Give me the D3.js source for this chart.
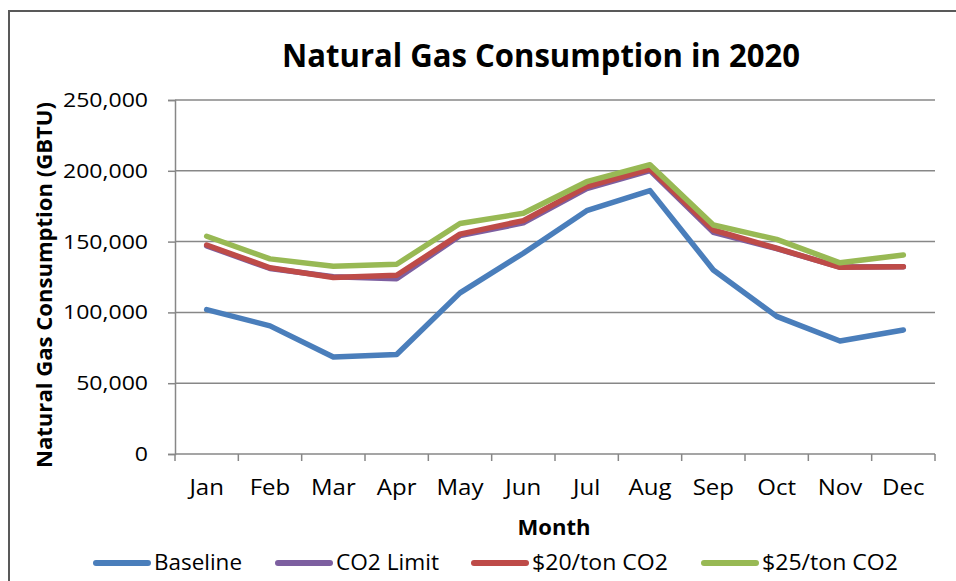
<!DOCTYPE html>
<html>
<head>
<meta charset="utf-8">
<script src="https://cdn.jsdelivr.net/npm/d3@7"></script>
<style>
  html, body { margin: 0; padding: 0; background: #fff; }
  svg { display: block; font-family: "Open Sans", "Noto Sans", sans-serif; }
</style>
</head>
<body>
<svg id="chart" width="956" height="581"></svg>
<script>
// ---------- data ----------
const months = ["Jan","Feb","Mar","Apr","May","Jun","Jul","Aug","Sep","Oct","Nov","Dec"];
const baseline  = [102000, 90500, 68500, 70300, 113800, 141800, 171800, 186000, 130000, 97200, 79800, 87600];
const co2Limit  = [147000, 131000, 125200, 123800, 154200, 163200, 187500, 200200, 156500, 145000, 132000, 132200];
const ton20     = [147600, 131500, 124600, 126200, 155300, 164800, 188800, 201200, 158200, 145300, 131800, 132300];
const ton25     = [153800, 137800, 132600, 134000, 162800, 170000, 192300, 204300, 161700, 151600, 135000, 140600];
const seriesNames = ["Baseline", "CO2 Limit", "$20/ton CO2", "$25/ton CO2"];
const yTicks = [0, 50000, 100000, 150000, 200000, 250000];
const title = "Natural Gas Consumption in 2020";
const xTitle = "Month";
const yTitle = "Natural Gas Consumption (GBTU)";

// ---------- styles ----------
const colors = ["#4A7EBB", "#7D5FA0", "#BE4B48", "#98B954"];
const gridColor = "#878787";

const svg = d3.select("#chart");
const plot = { left: 175, right: 935, top: 100, bottom: 454 };

const x = d3.scalePoint().domain(months).range([plot.left, plot.right]).padding(0.5);
const xBand = d3.scaleBand().domain(months).range([plot.left, plot.right]);
const y = d3.scaleLinear().domain([0, 250000]).range([plot.bottom, plot.top]);

function fit(sel, w) {
  sel.attr("textLength", w).attr("lengthAdjust", "spacingAndGlyphs");
}

// outer border (clipped at right / bottom as in reference)
svg.append("rect").attr("x", 9).attr("y", 11).attr("width", 960).attr("height", 600)
  .attr("fill", "none").attr("stroke", "#595959").attr("stroke-width", 2);

// title
const t = svg.append("text").attr("x", 541).attr("y", 67).attr("text-anchor", "middle")
  .attr("font-size", 32).attr("font-weight", "bold").attr("fill", "#000").text(title);
fit(t, 518);

// gridlines
svg.append("g").selectAll("line").data(yTicks.filter(d => d > 0)).join("line")
  .attr("x1", plot.left).attr("x2", plot.right)
  .attr("y1", d => y(d)).attr("y2", d => y(d))
  .attr("stroke", gridColor).attr("stroke-width", 1.5);

// y axis
const yAxis = svg.append("g").attr("transform", `translate(${plot.left},0)`)
  .call(d3.axisLeft(y).tickValues(yTicks).tickSize(7).tickPadding(20)
    .tickFormat(d3.format(",")));
yAxis.select(".domain").attr("stroke", gridColor).attr("stroke-width", 1.5);
yAxis.selectAll(".tick line").attr("stroke", gridColor).attr("stroke-width", 1.5);
yAxis.selectAll(".tick text").attr("font-size", 20.5).attr("fill", "#000")
  .attr("font-family", "'Open Sans', sans-serif");
// horizontal stretch to mimic reference typeface widths
(function(){
  const texts = yAxis.selectAll(".tick text").nodes();
  let ref = texts.find(n => n.textContent === "250,000");
  const k = 85 / ref.getComputedTextLength();
  texts.forEach(n => { const w = n.getComputedTextLength() * k; d3.select(n).call(fit, w); });
})();

// x axis
const xg = svg.append("g");
xg.append("line").attr("x1", plot.left).attr("x2", plot.right)
  .attr("y1", plot.bottom).attr("y2", plot.bottom)
  .attr("stroke", gridColor).attr("stroke-width", 1.5);
const edges = months.map(m => xBand(m)).concat([xBand(months[months.length-1]) + xBand.bandwidth()]);
xg.selectAll("line.tk").data(edges).join("line").attr("class", "tk")
  .attr("x1", d => d).attr("x2", d => d)
  .attr("y1", plot.bottom).attr("y2", plot.bottom + 7)
  .attr("stroke", gridColor).attr("stroke-width", 1.5);
const xl = xg.selectAll("text").data(months).join("text")
  .attr("x", d => x(d)).attr("y", 495).attr("text-anchor", "middle")
  .attr("font-size", 22).attr("fill", "#000").text(d => d);
(function(){
  const nodes = xl.nodes();
  const ref = nodes.find(n => n.textContent === "May");
  const k = 47 / ref.getComputedTextLength();
  nodes.forEach(n => { d3.select(n).call(fit, n.getComputedTextLength() * k); });
})();

// axis titles
const xt = svg.append("text").attr("x", 554).attr("y", 535).attr("text-anchor", "middle")
  .attr("font-size", 21).attr("font-weight", "bold").attr("fill", "#000").text(xTitle);
fit(xt, 73);
const yt = svg.append("text").attr("transform", "translate(52,285) rotate(-90)")
  .attr("text-anchor", "middle").attr("font-size", 21).attr("font-weight", "bold")
  .attr("fill", "#000").text(yTitle);
fit(yt, 366);

// lines
const allSeries = [baseline, co2Limit, ton20, ton25];
const lineGen = d3.line().x((d, i) => x(months[i])).y(d => y(d));
svg.append("g").selectAll("path").data(allSeries).join("path")
  .attr("d", d => lineGen(d))
  .attr("fill", "none")
  .attr("stroke", (d, i) => colors[i])
  .attr("stroke-width", 5.5)
  .attr("stroke-linejoin", "round")
  .attr("stroke-linecap", "round");

// legend
const legendX = [94, 276, 472, 702];
const legendW = [88, 103, 136, 136];
const lg = svg.append("g");
seriesNames.forEach((name, i) => {
  lg.append("line").attr("x1", legendX[i] + 2).attr("x2", legendX[i] + 54)
    .attr("y1", 563).attr("y2", 563)
    .attr("stroke", colors[i]).attr("stroke-width", 6).attr("stroke-linecap", "round");
  const tx = lg.append("text").attr("x", legendX[i] + 60).attr("y", 570)
    .attr("font-size", 22).attr("fill", "#000").text(name);
  fit(tx, legendW[i]);
});
</script>
</body>
</html>
